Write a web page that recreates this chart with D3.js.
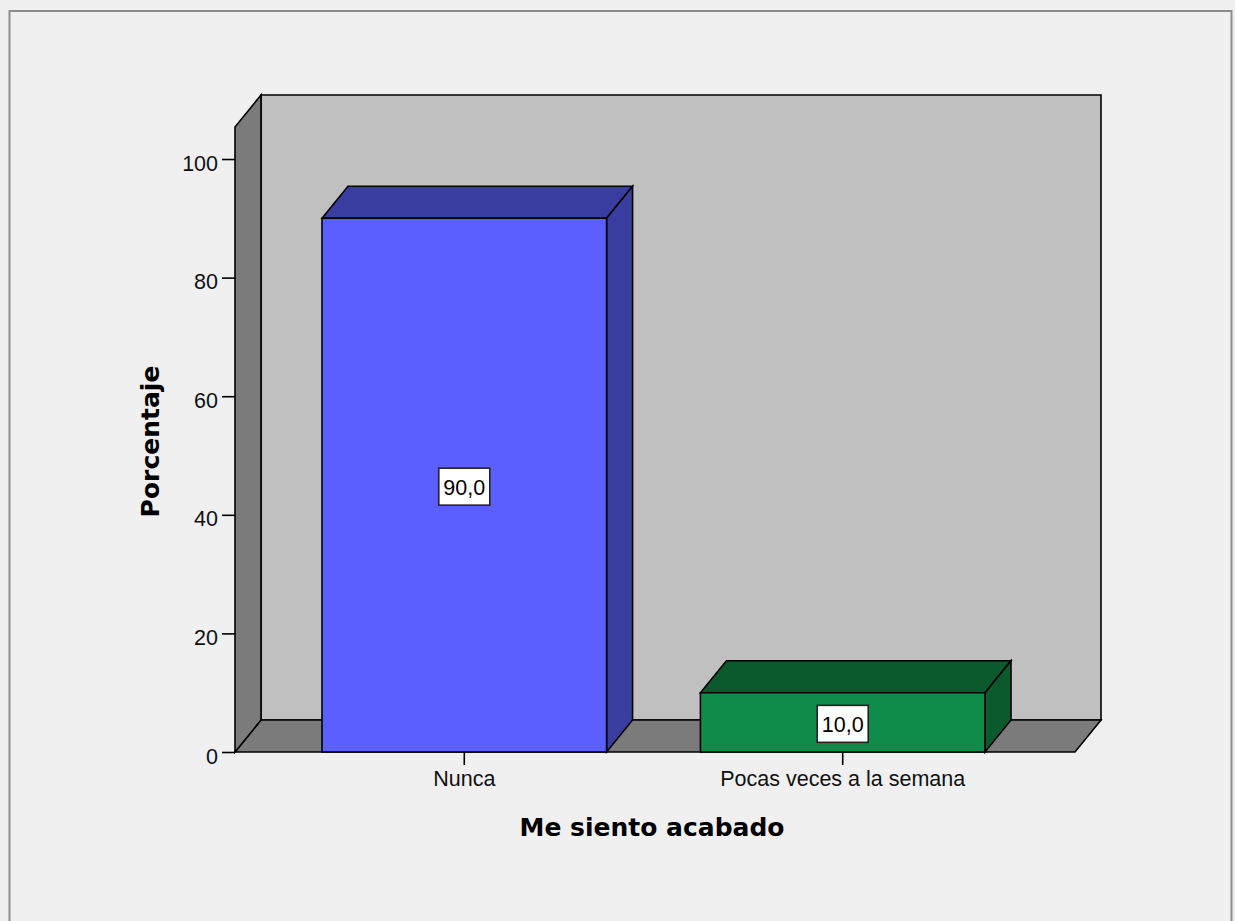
<!DOCTYPE html>
<html><head><meta charset="utf-8">
<script src="https://cdn.jsdelivr.net/npm/d3@7"></script>
<style>html,body{margin:0;padding:0;background:#f0f0f0;}svg{display:block;}</style>
</head><body>
<svg id="c" width="1235" height="921"></svg>
<script>
const categories = ["Nunca", "Pocas veces a la semana"];
const values = [90.0, 10.0];
const valueLabels = ["90,0", "10,0"];
const yTicks = [0, 20, 40, 60, 80, 100];
const frontColors = ["#5b5fff", "#0f8c49"];
const darkColors = ["#3a3da0", "#0a5a2e"];
const xTitle = "Me siento acabado";
const yTitle = "Porcentaje";

const svg = d3.select("#c");
const font = "'Liberation Sans', Arial, sans-serif";
const titleFont = "'DejaVu Sans', Verdana, sans-serif";
const dx = 26, dy = -32;
const x0 = 235, x1 = 1075;
const y = d3.scaleLinear().domain([0, 105.4]).range([752, 127]);
const x = d3.scaleBand().domain(categories).range([322, 985]).paddingInner(0.248).paddingOuter(0);

// outer frame
svg.append("rect").attr("x", 0).attr("y", 0).attr("width", 1235).attr("height", 921).attr("fill", "#f0f0f0");
svg.append("rect").attr("x", 9.5).attr("y", 11).attr("width", 1222).attr("height", 930)
  .attr("fill", "none").attr("stroke", "#8c8c8c").attr("stroke-width", 2);

const line = d3.line();
const poly = (pts, fill) => svg.append("path").attr("d", line(pts) + "Z")
  .attr("fill", fill).attr("stroke", "#000").attr("stroke-width", 1.6).attr("stroke-linejoin", "miter");

const yb = y(0), yt = y(105.4);
// back wall
poly([[x0+dx, yt+dy],[x1+dx, yt+dy],[x1+dx, yb+dy],[x0+dx, yb+dy]], "#c0c0c0");
// floor
poly([[x0, yb],[x0+dx, yb+dy],[x1+dx, yb+dy],[x1, yb]], "#7b7b7b");
// left wall
poly([[x0, yt],[x0+dx, yt+dy],[x0+dx, yb+dy],[x0, yb]], "#7b7b7b");

// y axis ticks
const yAxis = d3.axisLeft(y).tickValues(yTicks).tickSize(13).tickPadding(4).tickFormat(d3.format("d"));
const ga = svg.append("g").attr("transform", `translate(${x0},0)`).call(yAxis);
ga.select(".domain").remove();
ga.selectAll("line").attr("stroke", "#000").attr("stroke-width", 1.6);
ga.selectAll("text").attr("font-family", font).attr("font-size", 21.5).attr("fill", "#111").attr("dy", "0.52em");

// x axis ticks
const xAxis = d3.axisBottom(x).tickSize(13).tickPadding(6);
const gx = svg.append("g").attr("transform", `translate(0,${yb})`).call(xAxis);
gx.select(".domain").remove();
gx.selectAll("line").attr("stroke", "#000").attr("stroke-width", 1.6);
gx.selectAll("text").attr("font-family", font).attr("font-size", 21.5).attr("fill", "#111");

// bars
categories.forEach((c, i) => {
  const bx = x(c), bw = x.bandwidth(), top = y(values[i]);
  poly([[bx, top],[bx+dx, top+dy],[bx+bw+dx, top+dy],[bx+bw, top]], darkColors[i]);
  poly([[bx+bw, top],[bx+bw+dx, top+dy],[bx+bw+dx, yb+dy],[bx+bw, yb]], darkColors[i]);
  poly([[bx, top],[bx+bw, top],[bx+bw, yb],[bx, yb]], frontColors[i]);
  const cy = y(values[i] / 2) + 1.5, cx = bx + bw / 2;
  const g = svg.append("g");
  const t = g.append("text").attr("x", cx).attr("y", cy + 8).attr("text-anchor", "middle")
    .attr("font-family", font).attr("font-size", 21.5).attr("fill", "#000").text(valueLabels[i]);
  const bb = t.node().getBBox();
  g.insert("rect", "text").attr("x", cx - 25.5).attr("y", cy - 18.5).attr("width", 51).attr("height", 37)
    .attr("fill", "#fff").attr("stroke", "#222").attr("stroke-width", 1.6);
});

// titles
svg.append("text").attr("x", 652).attr("y", 836).attr("text-anchor", "middle")
  .attr("font-family", titleFont).attr("font-weight", "bold").attr("font-size", 25).attr("fill", "#000").text(xTitle);
svg.append("text").attr("transform", "translate(159,441.5) rotate(-90)").attr("text-anchor", "middle")
  .attr("font-family", titleFont).attr("font-weight", "bold").attr("font-size", 25).attr("fill", "#000").text(yTitle);
</script>
</body></html>
